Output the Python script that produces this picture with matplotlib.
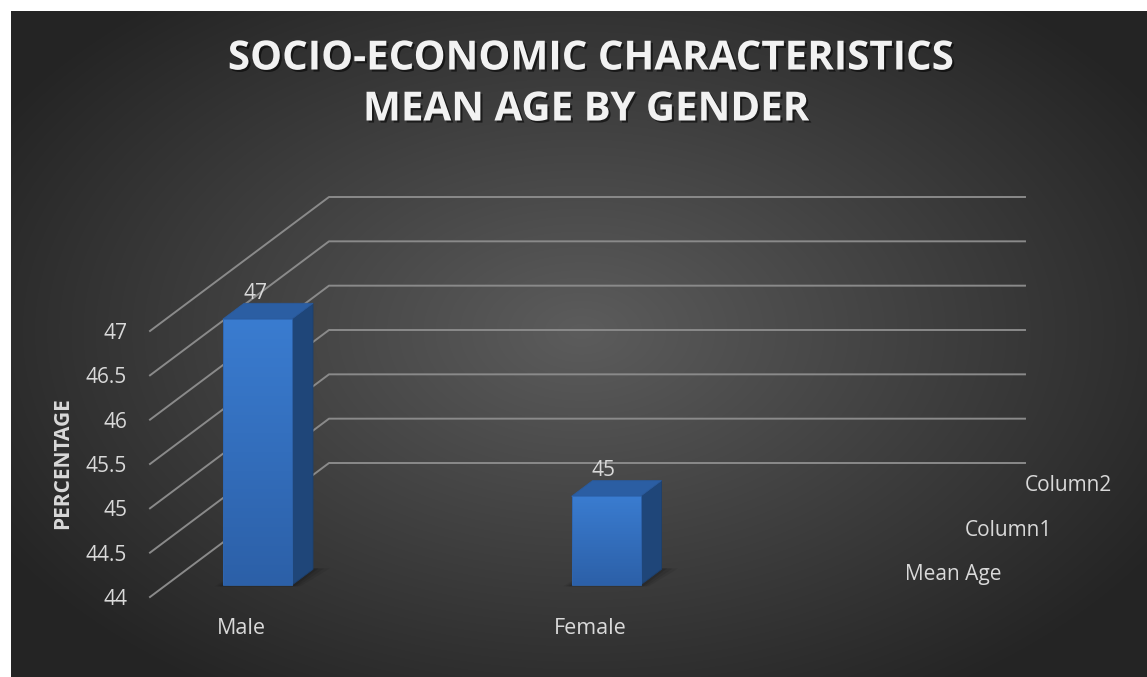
import numpy as np
import matplotlib.pyplot as plt
from matplotlib.patches import Polygon
import matplotlib.patheffects as pe

# data
categories = ['Male', 'Female']
mean_age = [47, 45]
series_names = ['Mean Age', 'Column1', 'Column2']
y_ticks = [44, 44.5, 45, 45.5, 46, 46.5, 47]
y_tick_labels = ['44', '44.5', '45', '45.5', '46', '46.5', '47']
title_lines = ['SOCIO-ECONOMIC CHARACTERISTICS', 'MEAN AGE BY GENDER']

W, H = 1147, 677
plt.rcParams['font.family'] = ['Open Sans', 'DejaVu Sans']
txt_col = '#D9D9D9'
grid_col = '#8A8A8A'

fig = plt.figure(figsize=(W / 100, H / 100), dpi=100)
fig.patch.set_facecolor('white')

# radial grey background (chart area starts 11px in from top/left)
bg = fig.add_axes([11 / W, 0, 1 - 11 / W, 1 - 11 / H])
yy, xx = np.mgrid[0:666, 0:1136]
r = np.sqrt(((xx - 570) / 680.0) ** 2 + ((yy - 320) / 430.0) ** 2)
r = np.clip(r, 0, 1)
c_in, c_out = np.array([92, 92, 92]) / 255, np.array([36, 36, 36]) / 255
img = c_in[None, None, :] * (1 - r[..., None]) + c_out[None, None, :] * r[..., None]
bg.imshow(img, aspect='auto', interpolation='bilinear')
bg.axis('off')

# front plane of the 3d plot
px_cat = 348.5            # pixels per category step
px_val = 266 / 3.0        # pixels per value unit
left_px, right_px = 150, 846
ax = fig.add_axes([left_px / W, (H - 597) / H, (right_px - left_px) / W, 266 / H])
ax.set_facecolor('none')
xl = -(241.5 - left_px) / px_cat
xr = xl + (right_px - left_px) / px_cat
for s in ax.spines.values():
    s.set_visible(False)
ax.set_xticks([])
ax.set_yticks(y_ticks)
ax.set_yticklabels(y_tick_labels, color=txt_col, fontsize=15)
ax.tick_params(axis='y', length=0, pad=16.5)

# depth vector (full floor depth) in data units
ddx = 179 / px_cat
ddy = 134 / px_val

# gridlines: side wall diagonals + back wall horizontals
for v in y_ticks:
    ax.plot([xl, xl + ddx, xr + ddx], [v, v + ddy, v + ddy],
            color=grid_col, lw=1.4, clip_on=False, zorder=1)

# bars (first depth row)
f0, f1 = 16 / 179, 37 / 179
bw = 69 / px_cat
base = 44
for i, v in enumerate(mean_age):
    xL0 = i - bw / 2 + f0 * ddx
    xR0 = i + bw / 2 + f0 * ddx
    xL1 = i - bw / 2 + f1 * ddx
    xR1 = i + bw / 2 + f1 * ddx
    yb0, yt0 = base + f0 * ddy, v + f0 * ddy
    yb1, yt1 = base + f1 * ddy, v + f1 * ddy
    # soft shadow on the floor
    for k, a in enumerate([0.07, 0.09, 0.12]):
        e = (3 - k) * 0.008
        sh = Polygon([(xL0 - e, yb0 - 0.015), (xR0 + e, yb0 - 0.015),
                      (xR1 + e * 2, yb1 + 0.01), (xL1, yb1 + 0.01)],
                     closed=True, facecolor='black', edgecolor='none',
                     alpha=a, clip_on=False, zorder=2)
        ax.add_patch(sh)
    # side face
    side = Polygon([(xR0, yb0), (xR1, yb1), (xR1, yt1), (xR0, yt0)], closed=True,
                   facecolor='#1F4679', edgecolor='#1C406E', lw=0.6, clip_on=False, zorder=3)
    ax.add_patch(side)
    # top face
    top = Polygon([(xL0, yt0), (xR0, yt0), (xR1, yt1), (xL1, yt1)], closed=True,
                  facecolor='#2B5EA3', edgecolor='#2A5A9C', lw=0.6, clip_on=False, zorder=3)
    ax.add_patch(top)
    # front face with vertical gradient
    grad = np.linspace(0, 1, 100)[:, None]
    ctop, cbot = np.array([58, 124, 208]) / 255, np.array([44, 96, 168]) / 255
    gimg = ctop[None, None, :] * (1 - grad[..., None]) + cbot[None, None, :] * grad[..., None]
    ax.imshow(gimg, extent=[xL0, xR0, yb0, yt0], aspect='auto', origin='upper',
              zorder=4, clip_on=False)
    ax.add_patch(Polygon([(xL0, yb0), (xR0, yb0), (xR0, yt0), (xL0, yt0)], closed=True,
                         facecolor='none', edgecolor='#2F66B0', lw=0.6, clip_on=False, zorder=5))
    # value label
    ax.annotate(f'{v:g}', (i + f0 * ddx - 0.007, yt1), xytext=(0, 3),
                textcoords='offset points', ha='center', va='baseline',
                color=txt_col, fontsize=15, zorder=6, annotation_clip=False)
    # category label
    ax.annotate(categories[i], (i, base), xytext=(0, -23), textcoords='offset points',
                ha='center', va='center', color=txt_col, fontsize=15.5,
                annotation_clip=False)

ax.set_xlim(xl, xr)
ax.set_ylim(44, 47)

# depth (series) labels
for k, name in enumerate(series_names):
    f = (k + 0.5) / 3
    ax.annotate(name, (xr + f * ddx, base + f * ddy), xytext=(21, 0),
                textcoords='offset points', ha='left', va='center',
                color=txt_col, fontsize=15, annotation_clip=False)

# axis title
fig.text(63 / W, 1 - 463 / H, 'PERCENTAGE', rotation=90, ha='center', va='center',
         color=txt_col, fontsize=15, fontweight='bold')

# chart title
shadow = [pe.withSimplePatchShadow(offset=(1.5, -1.5), shadow_rgbFace='black', alpha=0.55)]
fig.text(591 / W, 1 - 59 / H, title_lines[0], ha='center', va='center',
         color='#F2F2F2', fontsize=29, fontweight='bold', path_effects=shadow)
fig.text(586.5 / W, 1 - 110 / H, title_lines[1], ha='center', va='center',
         color='#F2F2F2', fontsize=29, fontweight='bold', path_effects=shadow)

fig.savefig('out.png', dpi=100, facecolor=fig.get_facecolor())
